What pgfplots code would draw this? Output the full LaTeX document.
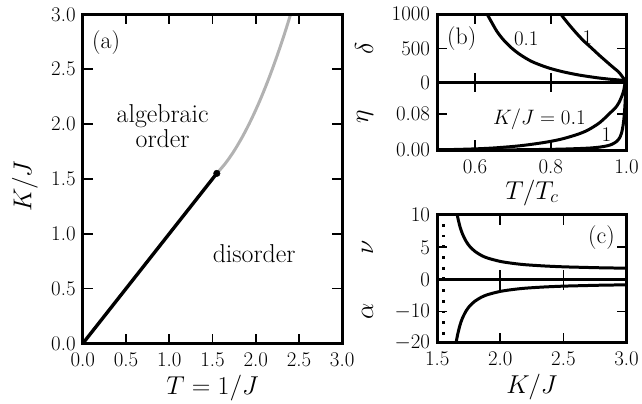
\RequirePackage{fix-cm}
\documentclass[border=0pt]{standalone}
\usepackage{pgfplots}
\pgfplotsset{compat=1.18}
\definecolor{lgray}{gray}{0.7}
\newcommand{\tickfont}{\fontsize{21}{21}\selectfont}
\newcommand{\labfont}{\fontsize{26}{26}\selectfont}
\newcommand{\annfont}{\fontsize{26}{26}\selectfont}
\newcommand{\panfont}{\fontsize{24}{24}\selectfont}
\newcommand{\smfont}{\fontsize{21}{21}\selectfont}
\pgfplotsset{
  base/.style={
    scale only axis,
    axis on top,
    anchor=south west,
    axis line style={line width=3bp},
    every tick/.style={black,line width=1.7bp},
    major tick length=10bp,
    tick align=inside,
    xtick pos=both, ytick pos=both,
    tick label style={font=\tickfont},
    xticklabel style={yshift=-5.7bp},
    yticklabel style={xshift=-3.7bp},
    every axis x label/.style={at={(axis description cs:0.5,0)},anchor=base,font=\labfont},
    every axis y label/.style={rotate=90,font=\labfont},
    every axis plot/.append style={line width=3bp, line join=round},
  },
}
\begin{document}
\begin{tikzpicture}
\path (0,0) rectangle (642bp,403bp);

% ---------------- panel (a)
\begin{axis}[base, at={(83bp,58.7bp)}, width=260bp, height=330bp,
  xmin=0, xmax=3, ymin=0, ymax=3,
  xtick={0,0.5,1,1.5,2,2.5,3}, xticklabels={0.0,0.5,1.0,1.5,2.0,2.5,3.0},
  ytick={0,0.5,1,1.5,2,2.5,3}, yticklabels={0.0,0.5,1.0,1.5,2.0,2.5,3.0},
  xlabel={$T=1/J$}, x label style={yshift=-50.7bp},
  ylabel={$K/J$}, y label style={at={(axis description cs:-0.198,0.4776)},anchor=base}]
\addplot[lgray, smooth] coordinates {
(1.55,1.55) (1.65,1.642) (1.75,1.755) (1.85,1.889) (1.95,2.043) (2.05,2.217)
(2.15,2.412) (2.25,2.628) (2.35,2.864) (2.45,3.121)};
\addplot[black, line width=3.4bp] coordinates {(0,0) (1.55,1.55)};
\addplot[black, only marks, mark=*, mark size=3.3bp, mark options={line width=0.4bp}] coordinates {(1.55,1.55)};
\node[font=\panfont] at (axis cs:0.27,2.745) {(a)};
\node[font=\annfont,anchor=base] at (axis cs:0.923,2.011) {algebraic};
\node[font=\annfont,anchor=base] at (axis cs:0.923,1.789) {order};
\node[font=\annfont,anchor=base] at (axis cs:1.982,0.734) {disorder};
\end{axis}

% ---------------- panel (b) top: delta
\begin{axis}[base, at={(438.3bp,320.3bp)}, width=189.7bp, height=68.4bp,
  xmin=0.5, xmax=1, ymin=0, ymax=1000,
  xtick={0.6,0.8,1.0}, xticklabels={},
  ytick={0,500,1000}, yticklabels={0,500,1000},
  ylabel={$\delta$}, y label style={at={(axis description cs:-0.3205,0.5)},anchor=south}]
\addplot[black, smooth] coordinates {
(0.625,1080) (0.632,1000) (0.645,870) (0.658,746) (0.675,625) (0.697,503) (0.72,405)
(0.75,307) (0.79,221) (0.829,161) (0.87,114) (0.899,88) (0.93,64) (0.96,46) (0.97,42)
(0.98,37) (0.99,31) (0.995,27) (0.999,21) (1.0,15)};
\addplot[black, smooth] coordinates {
(0.82,1100) (0.827,1000) (0.845,870) (0.864,746) (0.885,620) (0.908,503) (0.928,400)
(0.947,307) (0.963,230) (0.978,161) (0.983,130) (0.987,100) (0.991,70) (0.994,50)
(0.997,32) (1.0,15)};
\node[font=\panfont] at (axis cs:0.5645,650) {(b)};
\node[font=\smfont] at (axis cs:0.735,639) {0.1};
\node[font=\smfont] at (axis cs:0.897,661) {1};
\end{axis}

% ---------------- panel (b) bottom: eta
\begin{axis}[base, at={(438.3bp,252.5bp)}, width=189.7bp, height=67.8bp,
  xmin=0.5, xmax=1, ymin=0, ymax=0.15,
  xtick={0.6,0.8,1.0}, xticklabels={0.6,0.8,1.0},
  ytick={0,0.08}, yticklabels={0.00,0.08},
  xlabel={$T/T_c$}, x label style={yshift=-49bp},
  ylabel={$\eta$}, y label style={at={(axis description cs:-0.3205,0.5)},anchor=south}]
\addplot[black, smooth] coordinates {
(0.5,0.00082) (0.55,0.00154) (0.6,0.00281) (0.632,0.0040) (0.658,0.00535) (0.697,0.00794)
(0.72,0.00985) (0.75,0.01299) (0.79,0.01802) (0.829,0.02469) (0.87,0.03478) (0.899,0.04494)
(0.93,0.06154) (0.96,0.08511) (0.97,0.09302) (0.98,0.10526) (0.99,0.125) (0.995,0.14286)
(0.999,0.18182) (1.0,0.25)};
\addplot[black, smooth] coordinates {
(0.5,0.0002) (0.6,0.0004) (0.7,0.0008) (0.8,0.0018) (0.85,0.0028) (0.9,0.0045)
(0.93,0.0068) (0.95,0.0098) (0.963,0.0135) (0.975,0.02) (0.983,0.029) (0.987,0.038)
(0.991,0.055) (0.994,0.078) (0.997,0.121) (1.0,0.25)};
\node[font=\smfont] at (axis cs:0.77,0.0686) {$K/J=0.1$};
\node[font=\smfont] at (axis cs:0.947,0.0343) {1};
\end{axis}

% ---------------- panel (c) top: nu
\begin{axis}[base, at={(438.3bp,122.5bp)}, width=189.7bp, height=65.2bp,
  xmin=1.5, xmax=3, ymin=0, ymax=10,
  xtick={1.5,2,2.5,3}, xticklabels={},
  ytick={0,5,10}, yticklabels={0,5,10},
  ylabel={$\nu$}, y label style={at={(axis description cs:-0.3205,0.5)},anchor=south}]
\addplot[black, line width=2.7bp, dash pattern=on 2.7bp off 8bp, dash phase=1.35bp] coordinates {(1.547,10) (1.547,0)};
\addplot[black, smooth] coordinates {
(1.64,12.28) (1.65,10.90) (1.66,9.80) (1.68,8.18) (1.70,7.05) (1.73,5.88) (1.76,5.08)
(1.80,4.36) (1.85,3.75) (1.90,3.34) (2.0,2.83) (2.1,2.53) (2.2,2.32) (2.35,2.13)
(2.5,2.00) (2.65,1.92) (2.8,1.85) (3.0,1.79)};
\node[font=\panfont] at (axis cs:2.802,6.44) {(c)};
\end{axis}

% ---------------- panel (c) bottom: alpha
\begin{axis}[base, at={(438.3bp,59.2bp)}, width=189.7bp, height=63.3bp,
  xmin=1.5, xmax=3, ymin=-20, ymax=0,
  xtick={1.5,2,2.5,3}, xticklabels={1.5,2.0,2.5,3.0},
  ytick={-20,-10}, yticklabels={$-20$,$-10$},
  xlabel={$K/J$}, x label style={yshift=-50.7bp},
  ylabel={$\alpha$}, y label style={at={(axis description cs:-0.3205,0.5)},anchor=south}]
\addplot[black, line width=2.7bp, dash pattern=on 2.7bp off 8bp, dash phase=1.35bp] coordinates {(1.547,0) (1.547,-20)};
\addplot[black, smooth] coordinates {
(1.64,-22.56) (1.65,-19.80) (1.66,-17.60) (1.68,-14.36) (1.70,-12.10) (1.73,-9.76)
(1.76,-8.16) (1.80,-6.72) (1.85,-5.50) (1.90,-4.68) (2.0,-3.66) (2.1,-3.06) (2.2,-2.64)
(2.35,-2.26) (2.5,-2.00) (2.65,-1.84) (2.8,-1.70) (3.0,-1.58)};
\end{axis}
\end{tikzpicture}
\end{document}
